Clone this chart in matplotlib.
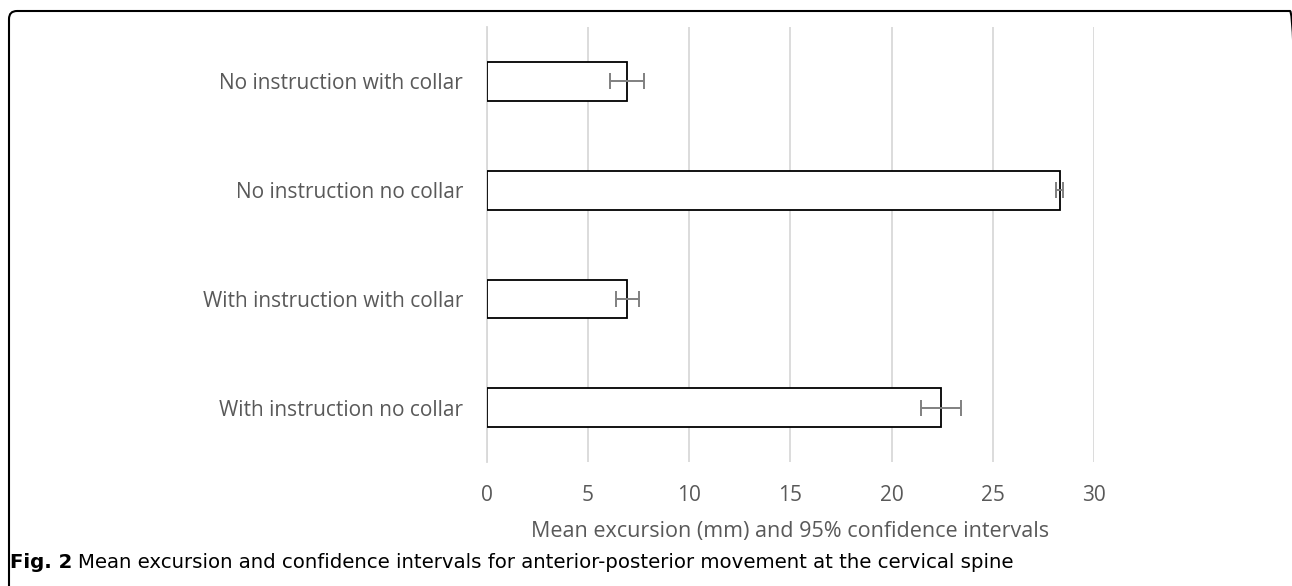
"""Fig. 2: mean anterior-posterior excursion at the cervical spine with 95% CIs."""
import matplotlib
matplotlib.use("Agg")
import matplotlib.pyplot as plt
from matplotlib.patches import FancyBboxPatch
from matplotlib.transforms import IdentityTransform

# bottom to top, as drawn
conditions = [
    "With instruction no collar",
    "With instruction with collar",
    "No instruction no collar",
    "No instruction with collar",
]
mean_excursion = [22.45, 6.95, 28.3, 6.95]
ci_half_width = [1.0, 0.58, 0.15, 0.84]
x_ticks = [0, 5, 10, 15, 20, 25, 30]

TEXT_GREY = "#595959"
GRID_GREY = "#d9d9d9"
ERR_GREY = "#808080"
LABEL_FONT = ["Open Sans", "DejaVu Sans"]
CAPTION_FONT = ["DejaVu Sans"]

fig = plt.figure(figsize=(12.92, 5.86), dpi=100)
ax = fig.add_axes([0.3767, 0.2111, 0.4700, 0.7432])

y_pos = list(range(len(conditions)))
ax.barh(y_pos, mean_excursion, height=0.357, color="white",
        edgecolor="black", linewidth=1.3, zorder=3)
ax.errorbar(mean_excursion, y_pos, xerr=ci_half_width, fmt="none",
            ecolor=ERR_GREY, elinewidth=1.4, capsize=5.5, capthick=1.4, zorder=4)

ax.set_xlim(0, 30)
ax.set_ylim(-0.5, len(conditions) - 0.5)
ax.set_xticks(x_ticks)
ax.set_yticks(y_pos, conditions)
ax.grid(axis="x", color=GRID_GREY, linewidth=1.3, zorder=0)
for side in ("top", "right", "bottom"):
    ax.spines[side].set_visible(False)
ax.spines["left"].set_color(GRID_GREY)
ax.spines["left"].set_linewidth(1.3)
ax.tick_params(axis="both", length=0, colors=TEXT_GREY, labelsize=15)
ax.tick_params(axis="y", pad=17)
ax.tick_params(axis="x", pad=16)
for lbl in ax.get_xticklabels() + ax.get_yticklabels():
    lbl.set_family(LABEL_FONT)

ax.set_xlabel("Mean excursion (mm) and 95% confidence intervals",
              color=TEXT_GREY, fontsize=15.5, family=LABEL_FONT, labelpad=11)

# caption: bold figure number, then the plain text right after it
cap_y = 1 - 563 / 586
fig_num = fig.text(10 / 1292, cap_y, "Fig. 2", fontsize=14.2, fontweight="bold",
                   family=CAPTION_FONT, va="center", ha="left")
renderer = fig.canvas.get_renderer()
num_end = fig_num.get_window_extent(renderer).x1
fig.text((num_end + 6) / 1292, cap_y,
         "Mean excursion and confidence intervals for anterior-posterior movement at the cervical spine",
         fontsize=14.2, family=CAPTION_FONT, va="center", ha="left")

# rounded frame, open at the bottom, right side just past the image edge
frame = FancyBboxPatch((9, -30), 1289, 586 - 11 + 30,
                       boxstyle="round,pad=0,rounding_size=8",
                       transform=IdentityTransform(), fill=False,
                       edgecolor="black", linewidth=1.5)
fig.patches.append(frame)

fig.savefig("out.png", dpi=100)
